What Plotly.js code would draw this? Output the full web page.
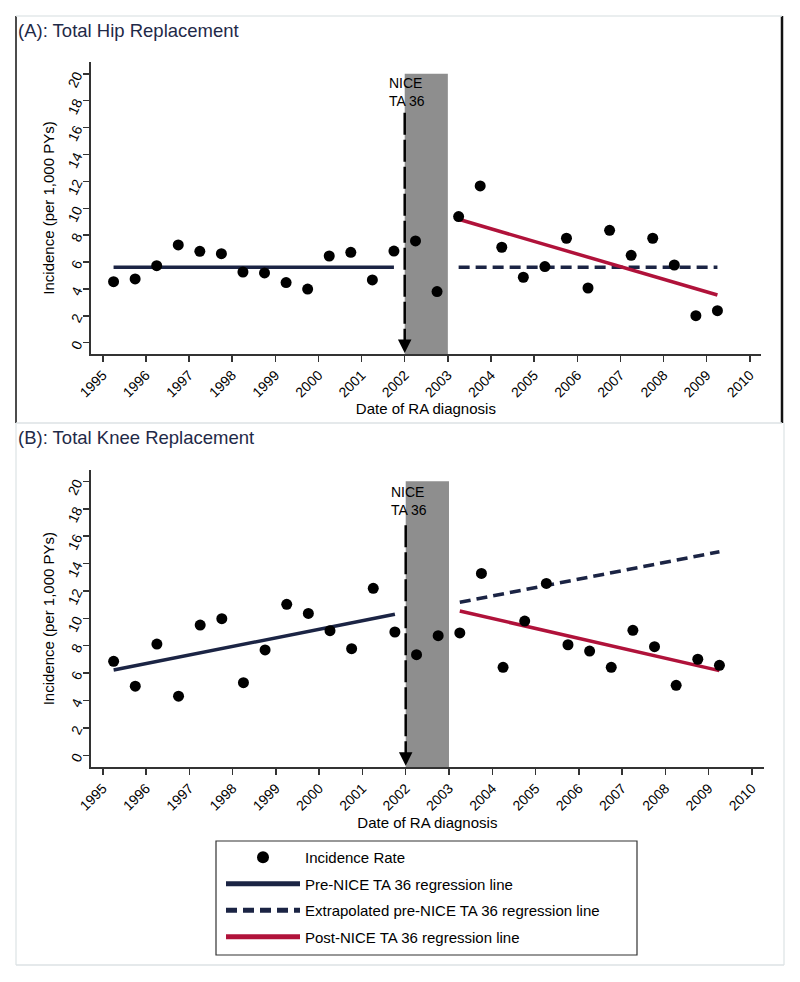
<!DOCTYPE html>
<html>
<head>
<meta charset="utf-8">
<script src="https://cdn.plot.ly/plotly-3.0.1.min.js"></script>
<style>html,body{margin:0;padding:0;background:#fff;}#chart{width:800px;height:982px;}</style>
</head>
<body>
<div id="chart"></div>
<script>
// ---------------- data ----------------
var years = [1995.25, 1995.75, 1996.25, 1996.75, 1997.25, 1997.75, 1998.25, 1998.75,
             1999.25, 1999.75, 2000.25, 2000.75, 2001.25, 2001.75, 2002.25, 2002.75,
             2003.25, 2003.75, 2004.25, 2004.75, 2005.25, 2005.75, 2006.25, 2006.75,
             2007.25, 2007.75, 2008.25, 2008.75, 2009.25];
var hipRates = [4.54, 4.74, 5.73, 7.27, 6.80, 6.62, 5.26, 5.19, 4.47, 3.99, 6.45, 6.72, 4.67, 6.82,
                7.57, 3.80, 9.38, 11.66, 7.10, 4.87, 5.66, 7.77, 4.07, 8.36, 6.50, 7.77, 5.78, 2.01, 2.38];
var kneeRates = [6.86, 5.04, 8.12, 4.31, 9.51, 9.97, 5.30, 7.69, 11.02, 10.36, 9.10, 7.78, 12.19, 9.00,
                 7.34, 8.73, 8.93, 13.28, 6.42, 9.80, 12.55, 8.07, 7.61, 6.42, 9.12, 7.93, 5.11, 7.01, 6.57];

var preX = [1995.25, 2001.75];
var postX = [2003.25, 2009.25];
var hipPre = [5.61, 5.61];
var hipExtrap = [5.61, 5.61];
var hipPost = [9.18, 3.55];
var kneePre = [6.23, 10.29];
var kneeExtrap = [11.17, 14.86];
var kneePost = [10.53, 6.18];

var niceYear = 2002;
var washoutEnd = 2003;
var yTicks = [0, 2, 4, 6, 8, 10, 12, 14, 16, 18, 20];
var xTicks = [1995, 1996, 1997, 1998, 1999, 2000, 2001, 2002, 2003, 2004, 2005, 2006, 2007, 2008, 2009, 2010];
var panelTitles = ['(A): Total Hip Replacement', '(B): Total Knee Replacement'];
var legendNames = ['Incidence Rate', 'Pre-NICE TA 36 regression line',
                   'Extrapolated pre-NICE TA 36 regression line', 'Post-NICE TA 36 regression line'];

// ---------------- styles ----------------
var NAVY = '#1b2444';
var RED = '#b0123a';
var FONT = 'Liberation Sans, Arial, Helvetica, sans-serif';
var W = 800, H = 982;
function px(v) { return v / W; }
function py(v) { return 1 - v / H; }

function panelTraces(xa, ya, rates, pre, extrap, post, showLeg) {
  return [
    {x: preX, y: pre, xaxis: xa, yaxis: ya, mode: 'lines', name: legendNames[1],
     line: {color: NAVY, width: 3.5}, showlegend: showLeg, legendgroup: 'g2', legendrank: 2},
    {x: postX, y: extrap, xaxis: xa, yaxis: ya, mode: 'lines', name: legendNames[2],
     line: {color: NAVY, width: 3.5, dash: '11px,6px'}, showlegend: showLeg, legendgroup: 'g3', legendrank: 3},
    {x: postX, y: post, xaxis: xa, yaxis: ya, mode: 'lines', name: legendNames[3],
     line: {color: RED, width: 3.5}, showlegend: showLeg, legendgroup: 'g4', legendrank: 4},
    {x: years, y: rates, xaxis: xa, yaxis: ya, mode: 'markers', name: legendNames[0],
     marker: {color: '#000', size: 11}, showlegend: showLeg, legendgroup: 'g1', legendrank: 1},
    {x: [niceYear], y: [-0.77], xaxis: xa, yaxis: ya, mode: 'markers', showlegend: false,
     marker: {symbol: 'arrow-down', color: '#000', size: 13.5}, cliponaxis: false, hoverinfo: 'skip'}
  ];
}

var data = [].concat(
  panelTraces('x', 'y', hipRates, hipPre, hipExtrap, hipPost, true),
  panelTraces('x2', 'y2', kneeRates, kneePre, kneeExtrap, kneePost, false)
);

function xAxis(domain, range, anchor) {
  return {
    domain: domain, range: range, anchor: anchor,
    tickmode: 'array', tickvals: xTicks, ticktext: xTicks.map(String),
    tickangle: -45, ticks: 'outside', ticklen: 6, tickwidth: 1.5, tickcolor: '#333',
    showline: true, linecolor: '#333', linewidth: 1.5, showgrid: false, zeroline: false,
    tickfont: {family: FONT, size: 14, color: '#000'},
    title: {text: 'Date of RA diagnosis', font: {family: FONT, size: 15, color: '#000'}, standoff: 4},
    automargin: false, fixedrange: true
  };
}
function yAxis(domain, range, anchor) {
  return {
    domain: domain, range: range, anchor: anchor,
    tickmode: 'array', tickvals: yTicks, ticktext: yTicks.map(String),
    tickangle: -65, ticks: 'outside', ticklen: 6, tickwidth: 1.5, tickcolor: '#333', ticklabelstandoff: 4,
    showline: true, linecolor: '#333', linewidth: 1.5, showgrid: false, zeroline: false,
    tickfont: {family: FONT, size: 14, color: '#000'},
    title: {text: 'Incidence (per 1,000 PYs)', font: {family: FONT, size: 15, color: '#000'}, standoff: 6},
    automargin: false, fixedrange: true
  };
}

var yRangeA = [-0.84, 20.88], yRangeB = [-0.88, 20.83];

var shapes = [
  // washout period shading
  {type: 'rect', xref: 'x', yref: 'y', x0: niceYear, x1: washoutEnd, y0: yRangeA[0], y1: 20,
   fillcolor: '#8e8e8e', line: {width: 0}, layer: 'below'},
  {type: 'rect', xref: 'x2', yref: 'y2', x0: niceYear, x1: washoutEnd, y0: yRangeB[0], y1: 20,
   fillcolor: '#8e8e8e', line: {width: 0}, layer: 'below'},
  // NICE TA 36 guidance marker
  {type: 'line', xref: 'x', yref: 'y', x0: niceYear, x1: niceYear, y0: 17.1, y1: 0.2,
   line: {color: '#000', width: 2.5, dash: '22px,5px'}},
  {type: 'line', xref: 'x2', yref: 'y2', x0: niceYear, x1: niceYear, y0: 16.8, y1: 0.15,
   line: {color: '#000', width: 2.5, dash: '22px,5px'}},
  // panel A frame
  {type: 'line', xref: 'paper', yref: 'paper', x0: px(16), x1: px(16), y0: py(16), y1: py(423), line: {color: '#111', width: 1.5}},
  {type: 'line', xref: 'paper', yref: 'paper', x0: px(782), x1: px(782), y0: py(16), y1: py(423), line: {color: '#111', width: 2.5}},
  {type: 'line', xref: 'paper', yref: 'paper', x0: px(16), x1: px(782), y0: py(16), y1: py(16), line: {color: '#e3e8ea', width: 1.5}},
  {type: 'line', xref: 'paper', yref: 'paper', x0: px(16), x1: px(782), y0: py(423), y1: py(423), line: {color: '#dde2e4', width: 1.5}},
  // panel B frame
  {type: 'line', xref: 'paper', yref: 'paper', x0: px(16), x1: px(16), y0: py(423), y1: py(965), line: {color: '#e3e8ea', width: 1.5}},
  {type: 'line', xref: 'paper', yref: 'paper', x0: px(784), x1: px(784), y0: py(423), y1: py(965), line: {color: '#e3e8ea', width: 1.5}},
  {type: 'line', xref: 'paper', yref: 'paper', x0: px(16), x1: px(784), y0: py(965), y1: py(965), line: {color: '#dde2e4', width: 1.5}},
  // legend box
  {type: 'rect', xref: 'paper', yref: 'paper', x0: px(216), x1: px(637), y0: py(841), y1: py(955),
   line: {color: '#333', width: 1.2}, fillcolor: 'rgba(0,0,0,0)'}
];

var annotations = [
  {xref: 'paper', yref: 'paper', x: px(16), y: py(30), xanchor: 'left', yanchor: 'middle', showarrow: false,
   text: panelTitles[0], font: {family: FONT, size: 18.5, color: '#1f2a48'}},
  {xref: 'paper', yref: 'paper', x: px(16), y: py(437.5), xanchor: 'left', yanchor: 'middle', showarrow: false,
   text: panelTitles[1], font: {family: FONT, size: 18.5, color: '#1f2a48'}},
  {xref: 'x', yref: 'y', x: 2001.58, y: 18.65, xanchor: 'left', yanchor: 'middle', align: 'left', showarrow: false,
   text: 'NICE<br>TA 36', font: {family: FONT, size: 14, color: '#000'}},
  {xref: 'x2', yref: 'y2', x: 2001.61, y: 18.56, xanchor: 'left', yanchor: 'middle', align: 'left', showarrow: false,
   text: 'NICE<br>TA 36', font: {family: FONT, size: 14, color: '#000'}}
];

var layout = {
  width: W, height: H,
  margin: {l: 0, r: 0, t: 0, b: 0},
  paper_bgcolor: '#fff', plot_bgcolor: '#fff',
  font: {family: FONT, color: '#000', size: 14},
  xaxis: xAxis([px(90.7), px(761)], [1994.72, 2010.26], 'y'),
  yaxis: yAxis([py(354), py(62)], yRangeA, 'x'),
  xaxis2: xAxis([px(90.7), px(764)], [1994.72, 2010.28], 'y2'),
  yaxis2: yAxis([py(767.3), py(470)], yRangeB, 'x2'),
  showlegend: true,
  legend: {
    x: px(221), y: py(841), xanchor: 'left', yanchor: 'top',
    bgcolor: 'rgba(0,0,0,0)', borderwidth: 0,
    font: {family: FONT, size: 15, color: '#000'},
    traceorder: 'grouped', tracegroupgap: 4, itemwidth: 74, itemsizing: 'constant'
  },
  shapes: shapes,
  annotations: annotations
};

Plotly.newPlot('chart', data, layout, {displayModeBar: false, staticPlot: true});
</script>
</body>
</html>
